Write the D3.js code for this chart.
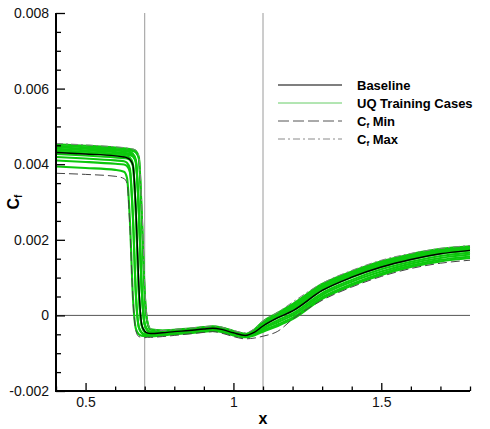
<!DOCTYPE html>
<html><head><meta charset="utf-8">
<script src="https://cdn.jsdelivr.net/npm/d3@7"></script>
<style>
body{margin:0;background:#fff}
svg{display:block}
text{font-family:"Liberation Sans",Arial,Helvetica,sans-serif}
</style>
</head><body>
<svg id="chart" width="490" height="429"></svg>
<script>
// ---------- data ----------
const xGrid = [0.40,0.50,0.60,0.63,0.64,0.65,0.66,0.67,0.68,0.69,0.70,0.71,0.72,0.76,0.80,0.85,0.90,0.93,0.96,1.00,1.04,1.07,1.10,1.15,1.20,1.30,1.40,1.50,1.60,1.70,1.80];

const baselineCf = [4.31e-3,4.27e-3,4.22e-3,4.19e-3,4.17e-3,4.12e-3,3.98e-3,2.85e-3,0.80e-3,-0.25e-3,-0.42e-3,-0.47e-3,-0.48e-3,-0.46e-3,-0.43e-3,-0.40e-3,-0.36e-3,-0.34e-3,-0.37e-3,-0.46e-3,-0.53e-3,-0.45e-3,-0.28e-3,-0.06e-3,0.12e-3,0.66e-3,1.01e-3,1.28e-3,1.48e-3,1.63e-3,1.72e-3];

const cfMax = [4.55e-3,4.51e-3,4.46e-3,4.44e-3,4.43e-3,4.42e-3,4.40e-3,4.37e-3,4.22e-3,2.90e-3,0.80e-3,-0.20e-3,-0.35e-3,-0.40e-3,-0.37e-3,-0.34e-3,-0.30e-3,-0.28e-3,-0.31e-3,-0.40e-3,-0.46e-3,-0.36e-3,-0.15e-3,0.08e-3,0.35e-3,0.85e-3,1.19e-3,1.46e-3,1.64e-3,1.77e-3,1.85e-3];

const cfMin = [3.76e-3,3.73e-3,3.68e-3,3.62e-3,3.50e-3,2.30e-3,0.45e-3,-0.40e-3,-0.56e-3,-0.58e-3,-0.59e-3,-0.58e-3,-0.58e-3,-0.56e-3,-0.53e-3,-0.49e-3,-0.45e-3,-0.43e-3,-0.47e-3,-0.56e-3,-0.62e-3,-0.60e-3,-0.55e-3,-0.42e-3,-0.10e-3,0.40e-3,0.75e-3,1.03e-3,1.24e-3,1.38e-3,1.46e-3];

const uqCase1 = [4.53e-3,4.49e-3,4.44e-3,4.42e-3,4.41e-3,4.40e-3,4.39e-3,4.35e-3,4.19e-3,2.70e-3,0.60e-3,-0.21e-3,-0.37e-3,-0.40e-3,-0.38e-3,-0.35e-3,-0.31e-3,-0.29e-3,-0.32e-3,-0.41e-3,-0.49e-3,-0.38e-3,-0.16e-3,0.07e-3,0.30e-3,0.83e-3,1.16e-3,1.43e-3,1.62e-3,1.76e-3,1.83e-3];
const uqCase2 = [4.49e-3,4.45e-3,4.40e-3,4.38e-3,4.37e-3,4.36e-3,4.35e-3,4.31e-3,4.15e-3,2.60e-3,0.55e-3,-0.22e-3,-0.38e-3,-0.41e-3,-0.39e-3,-0.36e-3,-0.32e-3,-0.30e-3,-0.33e-3,-0.42e-3,-0.50e-3,-0.39e-3,-0.18e-3,0.04e-3,0.26e-3,0.80e-3,1.13e-3,1.40e-3,1.59e-3,1.73e-3,1.81e-3];
const uqCase3 = [4.45e-3,4.41e-3,4.36e-3,4.34e-3,4.33e-3,4.32e-3,4.28e-3,4.12e-3,2.80e-3,0.70e-3,-0.23e-3,-0.39e-3,-0.44e-3,-0.43e-3,-0.40e-3,-0.37e-3,-0.33e-3,-0.31e-3,-0.34e-3,-0.43e-3,-0.51e-3,-0.41e-3,-0.21e-3,0.02e-3,0.23e-3,0.76e-3,1.10e-3,1.37e-3,1.56e-3,1.71e-3,1.79e-3];
const uqCase4 = [4.41e-3,4.37e-3,4.32e-3,4.30e-3,4.29e-3,4.28e-3,4.24e-3,4.08e-3,2.80e-3,0.70e-3,-0.24e-3,-0.40e-3,-0.45e-3,-0.44e-3,-0.41e-3,-0.38e-3,-0.34e-3,-0.32e-3,-0.35e-3,-0.44e-3,-0.51e-3,-0.42e-3,-0.23e-3,-0.01e-3,0.19e-3,0.73e-3,1.07e-3,1.34e-3,1.54e-3,1.68e-3,1.76e-3];
const uqCase5 = [4.37e-3,4.33e-3,4.28e-3,4.26e-3,4.25e-3,4.24e-3,4.20e-3,4.04e-3,2.75e-3,0.65e-3,-0.25e-3,-0.41e-3,-0.46e-3,-0.45e-3,-0.42e-3,-0.39e-3,-0.35e-3,-0.33e-3,-0.36e-3,-0.45e-3,-0.52e-3,-0.44e-3,-0.26e-3,-0.03e-3,0.16e-3,0.69e-3,1.04e-3,1.31e-3,1.51e-3,1.66e-3,1.74e-3];
const uqCase6 = [4.33e-3,4.29e-3,4.24e-3,4.22e-3,4.21e-3,4.17e-3,4.01e-3,2.75e-3,0.65e-3,-0.26e-3,-0.42e-3,-0.47e-3,-0.48e-3,-0.46e-3,-0.43e-3,-0.40e-3,-0.36e-3,-0.34e-3,-0.37e-3,-0.46e-3,-0.53e-3,-0.45e-3,-0.28e-3,-0.06e-3,0.12e-3,0.66e-3,1.01e-3,1.28e-3,1.48e-3,1.63e-3,1.72e-3];
const uqCase7 = [4.27e-3,4.23e-3,4.18e-3,4.16e-3,4.15e-3,4.11e-3,3.95e-3,2.70e-3,0.60e-3,-0.28e-3,-0.44e-3,-0.49e-3,-0.50e-3,-0.48e-3,-0.45e-3,-0.42e-3,-0.38e-3,-0.36e-3,-0.39e-3,-0.48e-3,-0.55e-3,-0.47e-3,-0.33e-3,-0.13e-3,0.05e-3,0.59e-3,0.94e-3,1.22e-3,1.42e-3,1.57e-3,1.66e-3];
const uqCase8 = [4.19e-3,4.15e-3,4.10e-3,4.08e-3,4.04e-3,3.88e-3,2.65e-3,0.60e-3,-0.30e-3,-0.45e-3,-0.50e-3,-0.51e-3,-0.51e-3,-0.49e-3,-0.46e-3,-0.43e-3,-0.39e-3,-0.37e-3,-0.40e-3,-0.49e-3,-0.56e-3,-0.49e-3,-0.36e-3,-0.18e-3,0.00e-3,0.54e-3,0.89e-3,1.16e-3,1.37e-3,1.52e-3,1.61e-3];
const uqCase9 = [4.10e-3,4.06e-3,4.01e-3,3.99e-3,3.95e-3,3.79e-3,2.60e-3,0.55e-3,-0.32e-3,-0.47e-3,-0.52e-3,-0.53e-3,-0.53e-3,-0.51e-3,-0.48e-3,-0.45e-3,-0.41e-3,-0.39e-3,-0.42e-3,-0.51e-3,-0.57e-3,-0.51e-3,-0.40e-3,-0.24e-3,-0.06e-3,0.48e-3,0.83e-3,1.11e-3,1.32e-3,1.47e-3,1.56e-3];
const uqCase10 = [3.94e-3,3.90e-3,3.85e-3,3.80e-3,3.64e-3,2.50e-3,0.50e-3,-0.35e-3,-0.50e-3,-0.54e-3,-0.55e-3,-0.55e-3,-0.55e-3,-0.53e-3,-0.50e-3,-0.47e-3,-0.43e-3,-0.41e-3,-0.44e-3,-0.53e-3,-0.58e-3,-0.53e-3,-0.43e-3,-0.28e-3,-0.10e-3,0.44e-3,0.79e-3,1.07e-3,1.28e-3,1.43e-3,1.52e-3];
const uqCases = [uqCase1,uqCase2,uqCase3,uqCase4,uqCase5,uqCase6,uqCase7,uqCase8,uqCase9,uqCase10];

const xMajorTicks = [0.5, 1, 1.5];
const xMinorTicks = [0.4,0.6,0.7,0.8,0.9,1.1,1.2,1.3,1.4,1.6,1.7,1.8];
const yMajorTicks = [-0.002, 0, 0.002, 0.004, 0.006, 0.008];
const yTickLabels = ["-0.002","0","0.002","0.004","0.006","0.008"];
const yMinorTicks = [-0.0015,-0.001,-0.0005,0.0005,0.001,0.0015,0.0025,0.003,0.0035,0.0045,0.005,0.0055,0.0065,0.007,0.0075];
const refLinesX = [0.7, 1.1];
const legendItems = ["Baseline","UQ Training Cases","Cf Min","Cf Max"];

// ---------- drawing ----------
const svg = d3.select("#chart");
const L = 56, R = 470, T = 13, B = 391;
const x = d3.scaleLinear().domain([0.4, 1.8]).range([L, R]);
const y = d3.scaleLinear().domain([-0.002, 0.008]).range([B, T]);

// reference lines
svg.selectAll("line.vref").data(refLinesX).join("line")
  .attr("x1", d => x(d)).attr("x2", d => x(d))
  .attr("y1", T).attr("y2", B)
  .attr("stroke", "#9a9a9a").attr("stroke-width", 1);
svg.append("line")
  .attr("x1", L).attr("x2", R).attr("y1", y(0)).attr("y2", y(0))
  .attr("stroke", "#555").attr("stroke-width", 1);

const line = d3.line().x((d, i) => x(xGrid[i])).y(d => y(d)).curve(d3.curveMonotoneX);

svg.append("g").selectAll("path").data(uqCases).join("path")
  .attr("d", d => line(d))
  .attr("fill", "none").attr("stroke", "#0cc80c").attr("stroke-width", 2.1);

svg.append("path").attr("d", line(cfMax))
  .attr("fill", "none").attr("stroke", "#808080").attr("stroke-width", 1)
  .attr("stroke-dasharray", "7,3,2,3");
svg.append("path").attr("d", line(cfMin))
  .attr("fill", "none").attr("stroke", "#444").attr("stroke-width", 1)
  .attr("stroke-dasharray", "9,4");
svg.append("path").attr("d", line(baselineCf))
  .attr("fill", "none").attr("stroke", "#000").attr("stroke-width", 1.4);

// axes
const gx = svg.append("g").attr("transform", `translate(0,${B})`);
gx.call(d3.axisBottom(x).tickValues(xMinorTicks).tickSize(-4.5).tickFormat(""));
const gxM = svg.append("g").attr("transform", `translate(0,${B})`);
gxM.call(d3.axisBottom(x).tickValues(xMajorTicks).tickSize(-8).tickPadding(6).tickFormat(d3.format("")));
const gy = svg.append("g").attr("transform", `translate(${L},0)`);
gy.call(d3.axisLeft(y).tickValues(yMinorTicks).tickSize(-5).tickFormat(""));
const gyM = svg.append("g").attr("transform", `translate(${L},0)`);
gyM.call(d3.axisLeft(y).tickValues(yMajorTicks).tickSize(-9).tickPadding(7)
  .tickFormat((d, i) => yTickLabels[i]));
[gx, gxM, gy, gyM].forEach(g => {
  g.select(".domain").remove();
  g.selectAll(".tick line").attr("stroke", "#000").attr("stroke-width", 1.3);
  g.selectAll(".tick text").attr("font-size", 14).attr("fill", "#111")
    .attr("font-family", '"Liberation Sans", Arial, sans-serif');
});
svg.append("line").attr("x1", L).attr("x2", L).attr("y1", T).attr("y2", B + 1)
  .attr("stroke", "#000").attr("stroke-width", 2);
svg.append("line").attr("x1", L - 1).attr("x2", R).attr("y1", B).attr("y2", B)
  .attr("stroke", "#000").attr("stroke-width", 2);

// axis titles
svg.append("text").attr("x", x(1.1)).attr("y", 424)
  .attr("text-anchor", "middle").attr("font-size", 16).attr("font-weight", "bold").text("x");
const yt = svg.append("text").attr("transform", "translate(19,202) rotate(-90)")
  .attr("text-anchor", "middle").attr("font-size", 16).attr("font-weight", "bold");
yt.append("tspan").text("C");
yt.append("tspan").attr("font-size", 10).attr("dy", 3).text("f");

// legend
const legY = [85, 103, 121, 139];
const legStyles = [
  {stroke: "#000", w: 1.2, dash: null},
  {stroke: "#66cc66", w: 1, dash: null},
  {stroke: "#555", w: 1, dash: "11,4"},
  {stroke: "#8a8a8a", w: 1, dash: "7,3,2,3"}
];
const lg = svg.append("g");
legendItems.forEach((name, i) => {
  const s = legStyles[i];
  lg.append("line").attr("x1", 278).attr("x2", 342).attr("y1", legY[i]).attr("y2", legY[i])
    .attr("stroke", s.stroke).attr("stroke-width", s.w)
    .attr("stroke-dasharray", s.dash);
  const t = lg.append("text").attr("x", 357).attr("y", legY[i] + 5)
    .attr("font-size", 13).attr("font-weight", "bold").attr("fill", "#000");
  if (name.startsWith("Cf")) {
    t.append("tspan").text("C");
    t.append("tspan").attr("font-size", 8).attr("dy", 2).text("f");
    t.append("tspan").attr("dy", -2).text(name.slice(2));
  } else {
    t.text(name);
  }
});
</script>
</body></html>
